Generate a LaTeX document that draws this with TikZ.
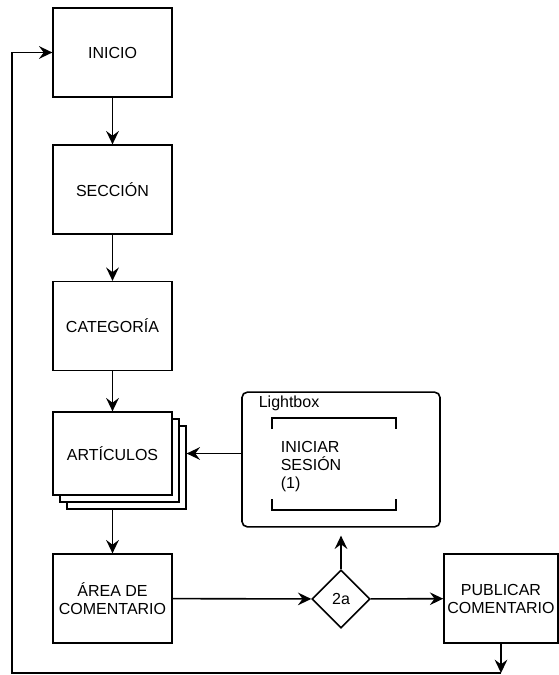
\documentclass[tikz,border=0pt]{standalone}
\usepackage{fontspec}
\setmainfont{Liberation Sans}
\usetikzlibrary{arrows.meta,positioning,shapes.geometric}

\begin{document}
\begin{tikzpicture}[x=0.75pt,y=-0.75pt,>={Stealth[length=10pt,width=9.5pt,inset=3.5pt]},line width=1.2pt,
    every node/.style={font=\fontsize{12}{13.5}\selectfont},
    box/.style={draw,fill=white,minimum width=89pt,minimum height=66.5pt,inner sep=2pt,align=center},
    decision/.style={draw,diamond,minimum width=43.5pt,minimum height=43.5pt,inner sep=0pt}]
    \useasboundingbox (0,0) rectangle (559,675);
    % main column
    \node[box] (inicio) at (112.5,52.5) {INICIO};
    \node[box] (seccion) at (112.5,189.5) {SECCIÓN};
    \node[box] (categoria) at (112.5,326) {CATEGORÍA};
    % stack of articles
    \node[box,minimum height=62pt] (art3) at (126.5,467.5) {};
    \node[box,minimum height=62pt] (art2) at (119.5,460.5) {};
    \node[box,minimum height=62pt] (art) at (112.5,453.5) {ARTÍCULOS};
    \node[box] (area) at (112.5,598.5) {ÁREA DE\\COMENTARIO};
    \node[decision] (d2a) at (341,599) {2a};
    \node[box,minimum width=85.5pt] (publicar) at (501,598.5) {PUBLICAR\\COMENTARIO};
    % lightbox
    \node[draw,rounded corners=4pt,minimum width=148.5pt,minimum height=101pt] (lightbox) at (341,459.5) {};
    \node[anchor=west,inner sep=0pt] (lbtitle) at (258,403) {Lightbox};
    \node[anchor=west,inner sep=0pt,align=left] (login) at (280,467) {INICIAR\\SESIÓN\\(1)};
    \draw (272,429) |- (396,418) -- (396,429);
    \draw (272,499) |- (396,510) -- (396,499);
    % connectors
    \draw[->] (inicio) -- (seccion);
    \draw[->] (seccion) -- (categoria);
    \draw[->] (categoria) -- (art);
    \draw[->] (art.south |- art3.south) -- (area);
    \draw[->] (lightbox.west |- art.east) -- (art3.east |- art.east);
    \draw[->] (area) -- (d2a);
    \draw[->] (d2a) -- (publicar);
    \draw[->,shorten >=6pt] (d2a) -- (lightbox);
    % loop back to start
    \coordinate (loopL) at (12,673);
    \draw[->] (publicar.south) -- (publicar.south |- loopL);
    \draw[->] (publicar.south |- loopL) -- (loopL) |- (inicio.west);
\end{tikzpicture}
\end{document}
